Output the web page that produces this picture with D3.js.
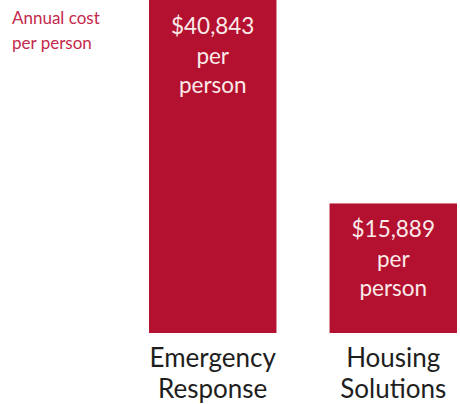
<!DOCTYPE html>
<html>
<head>
<meta charset="utf-8">
<script src="https://cdn.jsdelivr.net/npm/d3@7"></script>
<style>
    body { margin: 0; background: #fff; }
    svg { display: block; font-family: Lato, 'Open Sans', sans-serif; }
</style>
</head>
<body>
<div id="chart"></div>
<script>
const CATEGORIES = ['Emergency Response', 'Housing Solutions'];
const COSTS = [40843, 15889];
const COST_LABELS = ['$40,843', '$15,889'];

const width = 460;
const height = 404;
const barColor = '#b3112f';

const svg = d3.select('#chart').append('svg')
    .attr('width', width)
    .attr('height', height);

const xScale = d3.scaleBand()
    .domain(CATEGORIES)
    .range([149, 457])
    .paddingInner(0.294)
    .paddingOuter(0);

const yScale = d3.scaleLinear()
    .domain([0, 40843])
    .range([333, 0]);

const bars = CATEGORIES.map((category, index) => ({
    category,
    value: COSTS[index],
    label: COST_LABELS[index]
}));

svg.selectAll('.bar')
    .data(bars)
    .enter()
    .append('rect')
    .attr('class', 'bar')
    .attr('x', (datum) => xScale(datum.category))
    .attr('y', (datum) => yScale(datum.value))
    .attr('width', xScale.bandwidth())
    .attr('height', (datum) => yScale(0) - yScale(datum.value))
    .attr('fill', barColor);

// value text inside each bar
svg.selectAll('.value-label')
    .data(bars)
    .enter()
    .append('text')
    .attr('class', 'value-label')
    .attr('text-anchor', 'middle')
    .attr('fill', '#fbeaea')
    .attr('font-size', 22.5)
    .each(function addLines(datum) {
        const cx = xScale(datum.category) + xScale.bandwidth() / 2;
        const top = yScale(datum.value);
        [datum.label, 'per', 'person'].forEach((line, lineIndex) => {
            d3.select(this).append('tspan')
                .attr('x', cx)
                .attr('y', top + 34 + lineIndex * 29.5)
                .text(line);
        });
    });

// category labels under bars
svg.selectAll('.category-label')
    .data(bars)
    .enter()
    .append('text')
    .attr('class', 'category-label')
    .attr('text-anchor', 'middle')
    .attr('fill', '#1e1e1e')
    .attr('font-size', 26)
    .each(function addLines(datum) {
        const cx = xScale(datum.category) + xScale.bandwidth() / 2;
        datum.category.split(' ').forEach((word, lineIndex) => {
            d3.select(this).append('tspan')
                .attr('x', cx)
                .attr('y', 367 + lineIndex * 31)
                .text(word);
        });
    });

svg.append('text')
    .attr('fill', '#c4294c')
    .attr('font-size', 17)
    .selectAll('tspan')
    .data(['Annual cost', 'per person'])
    .enter()
    .append('tspan')
    .attr('x', 12)
    .attr('y', (datum, index) => 24 + index * 25)
    .text((datum) => datum);
</script>
</body>
</html>
